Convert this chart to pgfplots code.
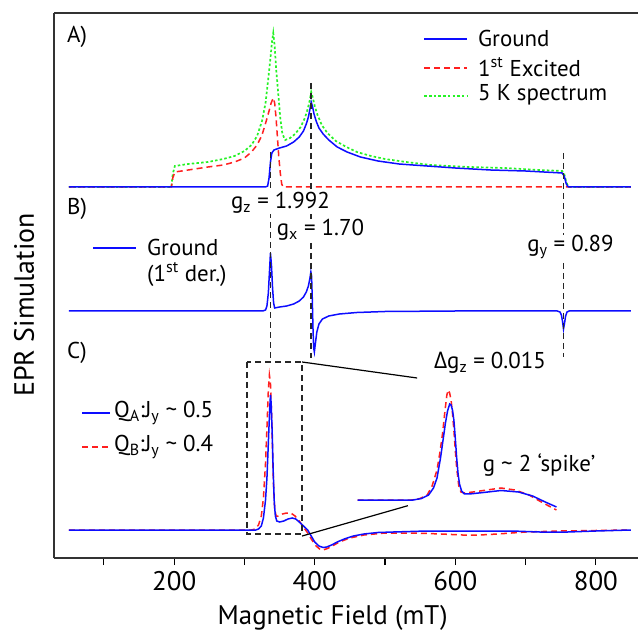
\documentclass[border=0pt]{standalone}
\usepackage{fontspec}
\setmainfont{PT Sans}
\newfontfamily\grk{Open Sans}
\usepackage{pgfplots}
\pgfplotsset{compat=1.18}
\definecolor{myblue}{rgb}{0.05,0.05,1}
\definecolor{myred}{rgb}{1,0.12,0.12}
\definecolor{mygreen}{rgb}{0.15,0.95,0.15}
\tikzset{
  blu/.style={draw=myblue, line width=1.5bp},
  rdd/.style={draw=myred, line width=1.5bp, dash pattern=on 6bp off 4bp},
  grn/.style={draw=mygreen, line width=1.7bp, dash pattern=on 2.5bp off 2.2bp},
  gdash/.style={draw=black!85, line width=1.6bp, dash pattern=on 6bp off 4bp},
}
\begin{document}
\begin{tikzpicture}[font=\fontsize{23}{28}\selectfont]
\begin{axis}[
  at={(0,0)}, anchor=south west,
  scale only axis, width=584bp, height=545bp,
  xmin=29, xmax=860, ymin=0, ymax=545,
  axis x line*=bottom, axis y line*=left,
  axis line style={line width=1.3bp, black!80},
  xtick={100,200,...,800},
  xticklabels={,200,,400,,600,,800},
  ytick=\empty,
  tick align=outside,
  major tick length=7bp,
  tick style={line width=1.1bp, black},
  xticklabel style={font=\fontsize{27}{32}\selectfont, yshift=-3bp},
  /pgf/number format/assume math mode=true,
  clip=false,
]
% ---------- A ----------
\addplot[grn] coordinates {(50,371) (196,371) (198,384) (201,392) (220,394) (248,396) (270,399) (286,402) (300,407) (310,413) (318,422) (325,437) (330,455) (334,480) (337,500) (339,515) (341,525) (343,512) (345,490) (348,465) (351,440) (354,424) (358,418) (365,420) (372,424) (380,431) (386,440) (390,449) (393,458) (395,466) (397,461) (400,452) (404,443) (410,433) (418,425) (430,417) (445,411) (460,406) (480,402) (500,399) (530,396) (565,393) (620,391) (670,390) (720,388) (752,387) (755,384) (758,376) (761,371) (850,371)};
\addplot[rdd] coordinates {(50,371) (196,371) (198,380) (201,386) (220,388) (248,391) (270,393) (286,396) (300,400) (310,406) (318,413) (325,423) (331,437) (335,447) (338,455) (341,460) (343,455) (345,440) (347,420) (349,400) (351,385) (353,374) (355,371) (850,371)};
\addplot[blu] coordinates {(50,371) (330,371) (333,372) (335,380) (337,396) (339,405) (342,408) (350,410) (360,412) (370,416) (378,421) (384,427) (388,434) (391,441) (393,448) (395,456) (397,451) (399,444) (402,437) (406,430) (412,424) (420,418) (432,411) (446,406) (465,401) (490,397) (520,394) (560,392) (600,390) (650,388) (700,387) (752,385) (755,382) (758,374) (761,371) (850,371)};

% ---------- B ----------
\addplot[blu] coordinates {(50,247) (326,247) (330,248) (332,252) (334,265) (335.5,285) (337,305) (338.5,292) (340,270) (341.5,255) (343,250) (350,251) (360,252) (370,254) (378,257) (384,261) (388,266) (391,272) (393,279) (394.5,286) (395.5,282) (396.5,260) (397.5,230) (398.5,210) (399.5,206) (401,215) (403,226) (406,234) (411,239) (420,242) (435,244) (460,245.5) (500,246.5) (600,247) (745,247) (749,246) (751,243) (752.5,237) (754,229) (755.5,235) (757,242) (759,246) (762,247) (850,247)};

% ---------- C ----------
\addplot[rdd] coordinates {(50,28) (310,28) (315,29) (320,33) (324,42) (327,60) (330,95) (332,130) (334,168) (335.5,183) (337,175) (338.5,145) (340,105) (341.5,70) (343,50) (345,42) (348,42) (354,44) (360,45) (366,45) (372,42) (378,37) (384,31) (390,25) (396,18) (402,12) (407,9) (412,8) (418,9.5) (425,12) (435,16) (450,20) (470,23) (500,25) (540,25) (580,24) (610,23) (635,23) (660,24) (700,26) (750,27) (800,27.5) (850,28)};
\addplot[blu] coordinates {(50,28) (316,28) (320,29) (324,32) (327,40) (330,58) (332,80) (334,115) (336,150) (337,163) (338,155) (339.5,125) (341,85) (342.5,55) (344,42) (346,37) (350,36) (356,37) (362,39) (368,40) (373,39) (378,36) (384,32) (390,28) (395,22) (400,16) (406,12) (412,10.5) (417,11) (424,13) (432,16) (442,19) (455,22) (470,24) (490,25.5) (512,26) (560,27) (620,27) (680,27) (720,26) (760,26) (800,27) (850,28)};
% inset
\addplot[rdd] coordinates {(461,58) (538,58) (550,59.5) (560,63) (567,72) (574,88) (578,105) (582,125) (585,145) (588,163) (590,168) (592,165) (594,158) (596,145) (598,128) (600,108) (602,90) (605,72) (608,66) (613,65) (625,66) (645,68) (665,70) (685,68) (705,63) (725,55) (744,48)};
\addplot[blu] coordinates {(461,58) (540,58) (552,59.5) (562,63) (569,70) (574,80) (579,100) (583,120) (586,135) (589,147) (592,154) (594,153) (596,148) (598,138) (600,120) (602,100) (604,84) (606,74) (609,67) (613,64) (620,64) (640,65.5) (665,67.5) (690,66) (710,62) (728,56) (744,51)};

% dashed guide lines
\draw[gdash] (axis cs:337,406) -- (axis cs:337,196);
\draw[gdash] (axis cs:395,475) -- (axis cs:395,200);
\draw[gdash] (axis cs:754,405) -- (axis cs:754,201);
% zoom box and connectors
\draw[gdash] (axis cs:303.7,196) rectangle (axis cs:382,24);
\draw[black, line width=1.2bp] (axis cs:382,196) -- (axis cs:545.7,180);
\draw[black, line width=1.2bp] (axis cs:382,22) -- (axis cs:532.5,52.3);
% legend A samples
\draw[blu] (axis cs:556,519) -- (axis cs:617,519);
\draw[rdd] (axis cs:556,490) -- (axis cs:617,490);
\draw[grn] (axis cs:556,462) -- (axis cs:617,462);
% legend B sample
\draw[blu] (axis cs:84.5,310) -- (axis cs:145.7,310);
% legend C samples
\draw[blu] (axis cs:68.9,145) -- (axis cs:108.7,145);
\draw[rdd] (axis cs:68.9,111) -- (axis cs:108.7,111);
\end{axis}
% top frame line
\draw[line width=1.3bp, black!80] (0,545bp) -- (584bp,545bp);
% panel labels
\node[anchor=west, inner sep=0] at (13bp,521bp) {A)};
\node[anchor=west, inner sep=0] at (13bp,349bp) {B)};
\node[anchor=west, inner sep=0] at (13bp,205bp) {C)};
% legend texts
\node[anchor=west, inner sep=0] at (424bp,520bp) {Ground};
\node[anchor=west, inner sep=0] at (424bp,491bp) {1\textsuperscript{st} Excited};
\node[anchor=west, inner sep=0] at (424bp,463bp) {5 K spectrum};
\node[anchor=west, inner sep=0] at (93bp,311bp) {Ground};
\node[anchor=west, inner sep=0] at (93bp,283bp) {(1\textsuperscript{st} der.)};
\node[anchor=west, inner sep=0] at (60bp,145bp) {Q\textsubscript{A}:J\textsubscript{y} \textasciitilde{} 0.5};
\node[anchor=west, inner sep=0] at (60bp,111bp) {Q\textsubscript{B}:J\textsubscript{y} \textasciitilde{} 0.4};
% g annotations
\node[fill=white, inner sep=0bp] at (226.5bp,355bp) {g\textsubscript{z} = 1.992};
\node[fill=white, inner sep=0bp] at (266.5bp,328bp) {g\textsubscript{x} = 1.70};
\node[fill=white, inner sep=0.5bp] at (516.5bp,311bp) {g\textsubscript{y} = 0.89};
\node at (436bp,195bp) {{\grk Δ}g\textsubscript{z} = 0.015};
\node at (485bp,93bp) {g \textasciitilde{} 2 ‘spike’};
% axis titles
\node[font=\fontsize{27}{32}\selectfont] at (278.6bp,-60bp) {Magnetic Field (mT)};
\node[rotate=90, font=\fontsize{28}{33}\selectfont] at (-30bp,253bp) {EPR Simulation};
\pgfresetboundingbox
\useasboundingbox (-54bp,-75bp) rectangle (584bp,558bp);
\end{tikzpicture}
\end{document}
